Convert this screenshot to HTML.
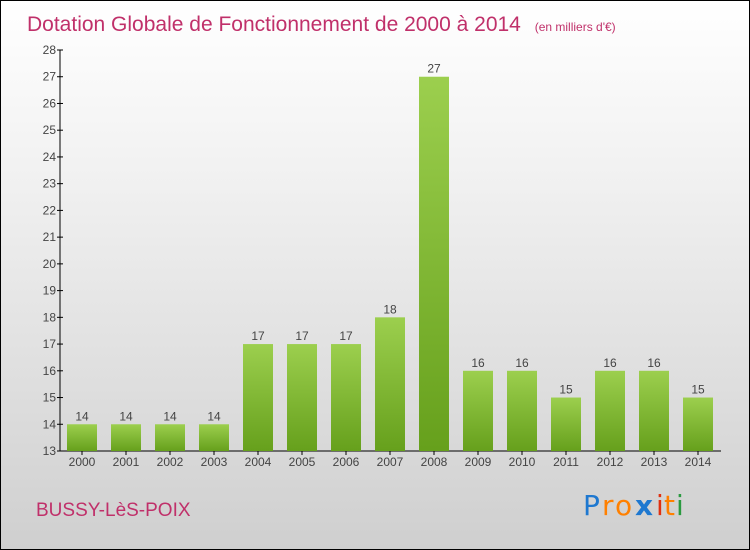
<!DOCTYPE html>
<html><head><meta charset="utf-8"><style>
body{margin:0}
#c{width:748px;height:548px;border:1px solid #000;background:linear-gradient(#ffffff,#f2f2f2 30%,#cfcfcf);position:relative;font-family:"Liberation Sans",sans-serif;overflow:hidden}
</style></head><body>
<div id="c">
<svg id="s" width="748" height="548" style="position:absolute;left:0;top:0">
<text x="26" y="30" font-size="21" fill="#c0306a">Dotation Globale de Fonctionnement de 2000 à 2014 <tspan font-size="12" dx="8">(en milliers d'€)</tspan></text>
<text x="35" y="515" font-size="19" fill="#c0306a">BUSSY-LèS-POIX</text>
<g font-size="28" font-family="'DejaVu Sans',sans-serif">
<text x="582" y="514" fill="#1e78d0">P</text><text x="601" y="514" fill="#ff8000">r</text><text x="614" y="514" fill="#ff8000">o</text><text x="634" y="514" fill="#1e78d0" font-weight="bold">x</text><text x="655" y="514" fill="#e03010">i</text><text x="663" y="514" fill="#ff8000">t</text><text x="675" y="514" fill="#2a9a40">i</text>
</g>
<defs><linearGradient id="g" x1="0" y1="0" x2="0" y2="1"><stop offset="0" stop-color="#9ccf4e"/><stop offset="1" stop-color="#66a01c"/></linearGradient></defs>
<g id="plot" transform="translate(-1,-1)"></g>
</svg>
</div>
<script>
const years=["2000","2001","2002","2003","2004","2005","2006","2007","2008","2009","2010","2011","2012","2013","2014"];
const values=[14,14,14,14,17,17,17,18,27,16,16,15,16,16,15];
const yTicks=[13,14,15,16,17,18,19,20,21,22,23,24,25,26,27,28];
const NS="http://www.w3.org/2000/svg";
const g=document.getElementById('plot');
const yMin=13,yMax=28,pTop=50,pBot=451;
const y=v=>pBot-(v-yMin)/(yMax-yMin)*(pBot-pTop);
const x=i=>82+i*44;
function el(t,a){const e=document.createElementNS(NS,t);for(const k in a)e.setAttribute(k,a[k]);g.appendChild(e);return e;}
let ax=el('line',{x1:60,y1:pTop,x2:60,y2:pBot,stroke:'#000'});


let xa=el('line',{x1:60,y1:pBot,x2:721,y2:pBot,stroke:'#000'});


yTicks.forEach(v=>{
 el('line',{x1:57,y1:y(v),x2:63,y2:y(v),stroke:'#000'});
 const t=el('text',{x:56,y:y(v)+4,'font-size':12,fill:'#444','text-anchor':'end'});t.textContent=v;
 
 
});
years.forEach((yr,i)=>{
 const b=el('rect',{x:x(i)-15,y:y(values[i]),width:30,height:pBot-y(values[i]),fill:'url(#g)'});
 
 
 const l=el('text',{x:x(i),y:y(values[i])-4,'font-size':12,fill:'#444','text-anchor':'middle'});l.textContent=values[i];
 
 
 el('line',{x1:x(i),y1:pBot,x2:x(i),y2:pBot+4,stroke:'#000'});
 const t=el('text',{x:x(i),y:pBot+15,'font-size':12,fill:'#444','text-anchor':'middle'});t.textContent=yr;
 
 
});
</script>
</body></html>
